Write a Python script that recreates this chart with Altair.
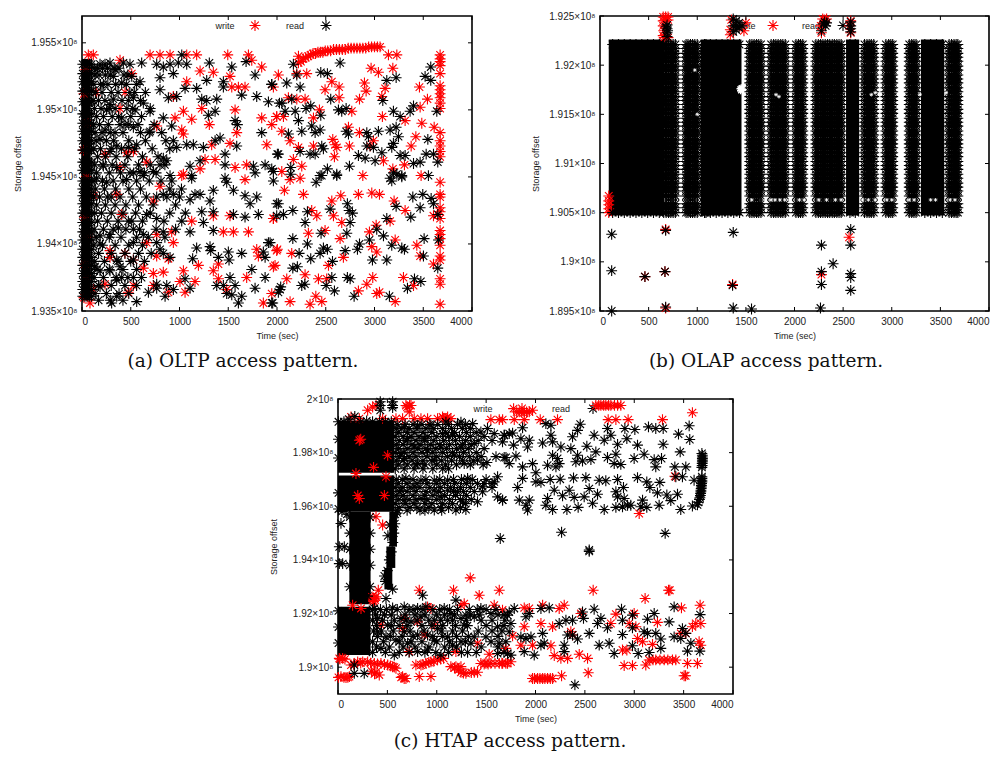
import altair as alt
import pandas as pd

alt.data_transformers.disable_max_rows()

STAR = "M-1,0L1,0M0,-1L0,1M-.7,-.7L.7,.7M-.7,.7L.7,-.7"
TIME_TICKS = [0, 500, 1000, 1500, 2000, 2500, 3000, 3500, 4000]

# ---------- (a) OLTP ----------
A_WRITE = [(65,1.9541),(116,1.9541),(698,1.9541),(800,1.9541),(903,1.9541),(1074,1.9541),(1176,1.9541),(1495,1.9541),(1707,1.9541),(3143,1.9541),(3229,1.9541),
(390,1.9537),(1741,1.9537),(1843,1.9532),(1211,1.9529),(1347,1.9528),(1518,1.9525),(1536,1.9517),(1604,1.9517),(1672,1.9517),(1074,1.9521),(510,1.9527),(150,1.9513),(441,1.9513),(937,1.9510),(1040,1.9499),(1228,1.9501),(1570,1.9500),(1843,1.9494),(1997,1.9495),(390,1.9501),(954,1.9494),(1125,1.9493),(1306,1.9489),(1023,1.9485),(1040,1.9482),(1587,1.9483),(1518,1.9475),(1330,1.9474),(1895,1.9474),(766,1.9488),(458,1.9468),(527,1.9469),(1262,1.9463),(1365,1.9463),(1570,1.9457),(1689,1.9459),(390,1.9457),(663,1.9461),(1211,1.9456),(1040,1.9452),(1672,1.9448),(236,1.9467),
(2014,1.9526),(2220,1.9540),(2305,1.9527),(2203,1.9527),(1963,1.9517),(2493,1.9515),(2562,1.9521),(2637,1.9517),(2637,1.9509),(2897,1.9520),(2914,1.9514),(2846,1.9508),(2965,1.9531),(3040,1.9528),(3188,1.9531),(3109,1.9516),(3075,1.9510),(2117,1.9509),(2288,1.9508),(2203,1.9508),(2435,1.9500),(2374,1.9494),(1997,1.9495),(2066,1.9495),(1946,1.9489),(2767,1.9499),(3081,1.9495),(3314,1.9492),(3468,1.9502),(3543,1.9508),(3461,1.9517),(3485,1.9490),(3612,1.9487),(2733,1.9487),(2846,1.9483),(2049,1.9484),(2134,1.9477),(2220,1.9472),(2374,1.9473),(2596,1.9474),(2572,1.9478),(2613,1.9472),(2743,1.9473),(2589,1.9465),(2168,1.9463),(2254,1.9458),(2989,1.9477),(2955,1.9473),(3092,1.9462),(3376,1.9473),(3424,1.9480),(3307,1.9459),(3188,1.9456),(2880,1.9451),(3478,1.9451),(2049,1.9454),(2237,1.9449),(2134,1.9448),
(2076,1.9440),(2271,1.9437),(2562,1.9432),(2654,1.9436),(2835,1.9437),(2972,1.9438),(3051,1.9437),(3201,1.9432),(3314,1.9425),(2579,1.9421),(2664,1.9416),(1963,1.9419),(2356,1.9425),(2408,1.9421),(3160,1.9417),(3605,1.9421),(2322,1.9408),(2493,1.9410),(2647,1.9404),(2948,1.9409),(3017,1.9414),(3212,1.9403),(2972,1.9398),(3023,1.9394),(3434,1.9399),(2004,1.9396),(2151,1.9393),(2681,1.9390),(2528,1.9384),(1980,1.9384),(3468,1.9391),(3605,1.9385),(2100,1.9374),(2288,1.9377),(2425,1.9374),(2510,1.9374),(2982,1.9375),(2921,1.9370),(2835,1.9365),(3051,1.9364),(3023,1.9363),(3297,1.9375),(3400,1.9369),(2134,1.9357),(2339,1.9355),(2398,1.9361),(2459,1.9357),(3212,1.9357),
(356,1.9437),(732,1.9432),(800,1.9443),(1023,1.9451),(1518,1.9421),(1963,1.9419),(1347,1.9421),(1125,1.9417),(766,1.9407),(920,1.9409),(937,1.9401),(1450,1.9409),(1553,1.9409),(1707,1.9409),(287,1.9395),(441,1.9393),(527,1.9388),(766,1.9391),(886,1.9389),(1040,1.9380),(1194,1.9384),(629,1.9382),(732,1.9378),(834,1.9379),(287,1.9390),(1347,1.9380),(1399,1.9385),(1399,1.9374),(1484,1.9366),(1689,1.9375),(1792,1.9396),(1809,1.9391),(1963,1.9383),(1997,1.9395),(475,1.9364),(527,1.9369),(1005,1.9372),(1159,1.9372),(1057,1.9364),(82,1.9356),(1860,1.9356),(1946,1.9363),(732,1.9369),(116,1.9366),(236,1.9370),(886,1.9364),(663,1.9401),(407,1.9422),
(2220,1.9535),(2245,1.9536),(2270,1.9538),(2295,1.9539),(2320,1.9540),(2345,1.9541),(2370,1.9542),(2395,1.9542),(2420,1.9543),(2445,1.9543),(2470,1.9543),(2495,1.9544),(2520,1.9544),(2550,1.9544),(2580,1.9545),(2610,1.9545),(2640,1.9545),(2670,1.9545),(2700,1.9545),(2730,1.9546),(2760,1.9546),(2790,1.9546),(2820,1.9546),(2850,1.9546),(2880,1.9546),(2910,1.9546),(2940,1.9547),(2970,1.9547),(3000,1.9547),(3030,1.9547),(3057,1.9547),
(40,1.9530),(20,1.9512),(60,1.9490),(15,1.9470),(45,1.9450),(120,1.9436),(25,1.9420),(75,1.9405),(30,1.9385),(60,1.9375),(20,1.9360)]
A_COLUMN_T = [3673]
A_COLUMN_Y = [1.9541,1.9538,1.9536,1.9533,1.9527,1.9518,1.9515,1.9512,1.9509,1.9505,1.9501,1.9483,1.9477,1.9473,1.9469,1.9465,1.9446,1.9437,1.9435,1.9427,1.9424,1.9419,1.9410,1.9407,1.9404,1.9399,1.9391,1.9388,1.9374,1.9370,1.9355]
A_READ = [(287,1.9535),(424,1.9535),(492,1.9534),(612,1.9535),(766,1.9534),(834,1.9532),(903,1.9534),(988,1.9535),(1074,1.9534),(1023,1.9541),(1306,1.9535),(1683,1.9536),(1536,1.9532),(185,1.9534),(236,1.9534),(339,1.9530),(937,1.9527),(800,1.9524),(595,1.9521),(510,1.9525),(407,1.9520),(321,1.9525),(219,1.9519),(1057,1.9516),(1176,1.9516),(1279,1.9522),(1450,1.9517),(1450,1.9521),(1638,1.9511),(1792,1.9510),(1912,1.9506),(2025,1.9505),(1775,1.9526),(1946,1.9519),(527,1.9509),(321,1.9508),(287,1.9504),(629,1.9505),(800,1.9515),(886,1.9509),(971,1.9510),(1228,1.9508),(1279,1.9507),(1382,1.9508),(1296,1.9496),(1365,1.9499),(834,1.9494),(698,1.9499),(544,1.9500),(407,1.9494),(253,1.9500),(1570,1.9492),(1594,1.9489),(1843,1.9483),(2014,1.9467),(1587,1.9473),(1416,1.9479),(1365,1.9477),(1245,1.9472),(1142,1.9474),(1074,1.9474),(937,1.9477),(971,1.9472),(817,1.9483),(698,1.9484),(527,1.9487),(339,1.9483),(236,1.9485),(441,1.9489),(920,1.9488),(561,1.9474),(475,1.9472),(356,1.9473),(185,1.9478),(287,1.9469),(834,1.9464),(869,1.9462),(800,1.9459),(1467,1.9467),(1467,1.9459),(1211,1.9462),(1108,1.9458),(732,1.9454),(595,1.9454),(492,1.9453),(903,1.9451),(1758,1.9458),(1878,1.9459),(1775,1.9453),(1946,1.9456),(1467,1.9449),(1125,1.9449),(356,1.9457),(219,1.9458),(150,1.9449),
(253,1.9446),(458,1.9448),(629,1.9451),(920,1.9447),(1125,1.9451),(1484,1.9446),(1553,1.9440),(1672,1.9436),(1792,1.9435),(1724,1.9430),(1997,1.9430),(1809,1.9422),(1672,1.9420),(1553,1.9422),(1347,1.9424),(1228,1.9424),(1245,1.9416),(1347,1.9410),(1211,1.9437),(1159,1.9437),(1108,1.9433),(937,1.9437),(834,1.9437),(766,1.9435),(1347,1.9440),(1313,1.9432),(663,1.9422),(766,1.9419),(475,1.9417),(373,1.9412),(527,1.9411),(629,1.9407),(287,1.9407),(185,1.9406),(527,1.9401),(834,1.9409),(1023,1.9417),(1108,1.9409),(1176,1.9397),(1313,1.9398),(1320,1.9395),(1399,1.9390),(1501,1.9394),(1508,1.9388),(1638,1.9393),(1135,1.9389),(1912,1.9401),(1860,1.9394),(1878,1.9390),(1997,1.9421),(800,1.9396),(903,1.9390),(834,1.9393),(766,1.9401),(527,1.9388),(356,1.9388),(185,1.9400),(287,1.9380),(407,1.9375),(356,1.9373),(527,1.9375),(133,1.9383),(185,1.9368),(356,1.9361),(304,1.9356),(561,1.9357),(681,1.9364),(766,1.9367),(869,1.9369),(937,1.9366),(852,1.9361),(1057,1.9374),(1108,1.9367),(1518,1.9375),(1382,1.9369),(1450,1.9369),(1570,1.9369),(1484,1.9363),(1536,1.9362),(1638,1.9361),(1604,1.9356),(1741,1.9381),(1775,1.9367),(1878,1.9375),(1946,1.9356),(2031,1.9366),(185,1.9380),(390,1.9383),(766,1.9370),
(2168,1.9534),(2647,1.9535),(2203,1.9526),(2449,1.9528),(2517,1.9527),(2100,1.9520),(2237,1.9517),(1946,1.9519),(2049,1.9505),(2151,1.9508),(2083,1.9499),(2186,1.9499),(2298,1.9501),(2346,1.9503),(2551,1.9508),(2449,1.9496),(2220,1.9492),(2356,1.9488),(2442,1.9485),(2391,1.9483),(2254,1.9484),(2117,1.9482),(2630,1.9500),(2664,1.9499),(2709,1.9501),(3126,1.9522),(3222,1.9524),(3085,1.9507),(3194,1.9499),(3263,1.9495),(3365,1.9499),(3400,1.9503),(3519,1.9525),(3577,1.9532),(3577,1.9522),(3639,1.9499),(3222,1.9487),(3160,1.9485),(3040,1.9484),(2921,1.9483),(2938,1.9480),(2709,1.9484),(2733,1.9482),(3194,1.9475),(3246,1.9480),(3547,1.9478),(3177,1.9472),(2989,1.9472),(2921,1.9473),(2459,1.9473),(2476,1.9471),(2237,1.9469),(2004,1.9467),(2339,1.9467),(2391,1.9467),(2835,1.9466),(2904,1.9464),(3006,1.9462),(3075,1.9468),(3263,1.9466),(3314,1.9466),(3400,1.9460),(3468,1.9461),(3530,1.9467),(3605,1.9467),(3649,1.9461),(2743,1.9458),(2517,1.9456),(2442,1.9451),(2613,1.9452),(2141,1.9457),(2141,1.9452),(1963,1.9454),(3194,1.9453),(3229,1.9452),(3160,1.9449),(3280,1.9451),(3553,1.9451),
(3177,1.9447),(3280,1.9450),(2401,1.9446),(2459,1.9451),(2613,1.9451),(1963,1.9447),(2014,1.9430),(2066,1.9422),(2162,1.9425),(2312,1.9424),(2288,1.9416),(2545,1.9426),(2722,1.9430),(2740,1.9425),(2774,1.9423),(2750,1.9416),(2716,1.9408),(2452,1.9408),(2162,1.9404),(1929,1.9401),(2312,1.9400),(2476,1.9397),(2517,1.9396),(2442,1.9393),(2346,1.9389),(2227,1.9393),(2569,1.9387),(2699,1.9395),(2825,1.9396),(2846,1.9400),(2948,1.9403),(3023,1.9411),(3092,1.9406),(3126,1.9419),(3177,1.9399),(3280,1.9397),(3307,1.9396),(2979,1.9388),(3126,1.9388),(3502,1.9391),(3649,1.9382),(2162,1.9382),(2209,1.9383),(2254,1.9369),(2285,1.9370),(2038,1.9368),(2014,1.9364),(2562,1.9375),(2504,1.9369),(2589,1.9365),(2722,1.9375),(2750,1.9374),(2791,1.9361),(3153,1.9361),(3338,1.9367),(3410,1.9374),(3475,1.9372),(3222,1.9428),(3372,1.9420),(3495,1.9437),(3393,1.9435),(3581,1.9434),(3605,1.9430),(3649,1.9422),(3468,1.9427),(3656,1.9403),(3509,1.9404),(1956,1.9356)]
A_DENSE_T = [8, 30, 52, 75, 98]
A_DENSE_Y = [1.9534,1.9527,1.9521,1.9514,1.9506,1.9497,1.9490,1.9484,1.9477,1.9470,1.9461,1.9455,1.9447,1.9441,1.9436,1.9430,1.9423,1.9416,1.9409,1.9403,1.9396,1.9390,1.9384,1.9378,1.9372,1.9366,1.9361]
A_ROWS = [(1.9531,[125,160,210,262,330,380]),(1.9526,[135,175,240,290,430,470]),(1.9519,[120,190,265,345,455,560]),(1.9513,[140,205,300,370,490,540,650]),(1.9507,[115,170,235,410,475,600]),(1.9501,[128,195,285,340,460,520,700]),(1.9495,[150,220,310,375,500,610]),(1.9489,[118,180,270,390,480,575,740]),(1.9483,[135,205,290,420,600,690]),(1.9477,[145,250,325,480,650,860]),(1.9471,[120,190,300,405,540,720,900]),(1.9465,[160,240,350,470,620,780]),(1.9459,[130,215,310,440,580,700,850]),(1.9453,[150,280,395,530,640,760]),(1.9447,[125,210,320,420,560,690,810]),(1.9441,[140,230,345,480,600,900,1020]),(1.9435,[118,180,260,300,390,520,660,870,1000]),(1.9429,[150,240,340,450,580,730,960]),(1.9423,[130,200,300,420,550,700,900,1060]),(1.9417,[160,260,370,510,620,840]),(1.9411,[125,220,320,450,590,760,960]),(1.9405,[145,280,400,560,680,850]),(1.9399,[120,210,340,480,620]),(1.9393,[170,300,440,580,710]),(1.9387,[130,230,370,500,640]),(1.9381,[155,280,420,560]),(1.9375,[125,220,350,470,610]),(1.9369,[170,300,440,560]),(1.9363,[135,250,380,480]),(1.9358,[170,290,420])]
A_BANDS = [(0, 90, 1.9358, 1.9538)]

# ---------- (b) OLAP ----------
B_WRITE = [(675,1.9033),(462,1.8985),(668,1.8990),(675,1.8953),(1363,1.8977),(2277,1.8987),(2561,1.9025),
(650,1.9249),(675,1.9249),(700,1.9249),(650,1.9245),(700,1.9246),(650,1.9240),(655,1.9235),(650,1.9230),(660,1.9228),(700,1.9228),
(1340,1.9231),(1340,1.9236),(1500,1.9243),(1480,1.9235),(1350,1.9246),
(2310,1.9246),(2290,1.9247),(2330,1.9247),(2277,1.9233),(2270,1.9240),
(2578,1.9245),(2578,1.9233),(2565,1.9240),
(90,1.9050),(90,1.9054),(90,1.9058),(90,1.9062),(90,1.9067)]
B_READ = [(120,1.9028),(120,1.8991),(120,1.8950),(675,1.9032),(668,1.8990),(675,1.8954),(462,1.8985),(1370,1.9030),(1363,1.8976),(1370,1.8953),(1558,1.8952),(2277,1.9017),(2277,1.8990),(2277,1.8977),(2267,1.8953),(2397,1.8998),(2578,1.9033),(2578,1.9017),(2578,1.8988),(2578,1.8984),(2578,1.8971),
(690,1.9241),(690,1.9237),(690,1.9233),(690,1.9229),(680,1.9239),(695,1.9235),
(1370,1.9247),(1400,1.9245),(1430,1.9243),(1370,1.9240),(1400,1.9240),(1430,1.9238),(1460,1.9240),(1370,1.9234),(1400,1.9236),
(2310,1.9244),(2320,1.9240),(2300,1.9242),(2277,1.9235),(2330,1.9243),
(2578,1.9244),(2578,1.9240),(2578,1.9237),(2578,1.9234)]
B_BANDS = [(90,655,1.9047,1.9226),(1035,1455,1.9047,1.9226),(2530,2665,1.9047,1.9226),(3300,3540,1.9047,1.9226)]
B_COLS = [655,680,705,728,752,775,885,905,930,952,975,1000,1075,1090,1540,1562,1585,1610,1632,1655,1760,1785,1808,1832,1858,1880,1905,2015,2040,2062,2085,2220,2245,2268,2292,2316,2340,2362,2388,2410,2435,2458,2480,2720,2745,2768,2790,2815,2940,2968,2990,3010,3180,3205,3228,3250,3590,3615,3640,3662,3680]
B_ROWS = [1.9221,1.9217,1.9212,1.9208,1.9204,1.9199,1.9195,1.9190,1.9186,1.9182,1.9177,1.9173,1.9168,1.9164,1.9160,1.9155,1.9151,1.9146,1.9142,1.9138,1.9133,1.9129,1.9124,1.9120,1.9116,1.9111,1.9107,1.9102,1.9098,1.9094,1.9089,1.9085,1.9080,1.9076,1.9072,1.9067,1.9059,1.9055,1.9050]
B_EDGE_T = [130,190,250,310,370,430,490,550,610,1075,1135,1195,1255,1315,1375,1435,2570,2625,3340,3400,3460,3520]
B_EDGE_Y = [1.9221,1.9050]
B_GAP_BLOB = [(1440,1.9176),(1452,1.9177),(1446,1.9174)]
B_GAP_T = [1480,1560,1700,1760,1800,1850,1900,1950,2050,2100,2250,2330,2420,2480,2700,2760,2830,2950,3000,3180,3230,3400,3450,3600,3650]
B_GAP_Y = [1.9063]
B_GAP_SPECKS = [(1810,1.9170),(1840,1.9168),(2790,1.9170),(2830,1.9172),(3290,1.9170),(3560,1.9172),(975,1.9195),(1000,1.9150)]

# ---------- (c) HTAP ----------
C_WRITE = [(13,1.9033),(47,1.9033),(30,1.8965),(81,1.8961),(115,1.8965),(132,1.9008),(199,1.9020),(250,1.9020),(300,1.9020),(368,1.9014),(435,1.9014),(503,1.9008),(553,1.9002),(587,1.8996),(385,1.8981),(418,1.8971),(654,1.8965),(688,1.8958),(823,1.8965),(941,1.8965),(789,1.9008),(840,1.9008),(890,1.9014),(941,1.9020),(1008,1.9027),(1069,1.9033),(1143,1.9002),(1194,1.9002),(1245,1.9002),(1245,1.8981),(1295,1.8977),(1380,1.8981),(1413,1.8981),(1447,1.9014),(1498,1.9014),(1548,1.9014),(1633,1.9014),(1700,1.9014),(1751,1.9020),(368,1.9256),(385,1.9262),(351,1.9250),(408,1.9287),(823,1.9287),(1170,1.9287),(1339,1.9333),(1430,1.9268),(1633,1.9287),(1582,1.9231),(1245,1.9231),(1278,1.9237),(907,1.9225),(941,1.9219),(654,1.9144),(722,1.9058),(1194,1.9058),(1413,1.9089),(1531,1.9048),(1666,1.9213),(148,1.9231),(233,1.9219),(435,1.9157),(671,1.9182),(975,1.9157),(806,1.9169),(874,1.9120),
(1667,1.9014),(1717,1.9014),(1970,1.8958),(2021,1.8958),(2072,1.8958),(2122,1.8958),(2173,1.8958),(2264,1.8968),(2534,1.8979),(2584,1.9287),(3110,1.9256),(3347,1.9287),(3478,1.9221),(3667,1.9231),(3505,1.8968),(3539,1.9014),(3640,1.9014),(2898,1.9006),(2982,1.9006),(3117,1.9008),(3151,1.9027),(3218,1.9027),(3303,1.9027),(3387,1.9027),(3421,1.9027),(2072,1.9231),(2291,1.9231),(2240,1.9219),(2460,1.9200),(1886,1.9221),(1937,1.9219),(2055,1.9163),(1886,1.9151),(1768,1.9117),(2173,1.9151),(2358,1.9132),(2375,1.9120),(2443,1.9048),(2527,1.9033),(2257,1.9033),(2325,1.9033),(2190,1.9043),(2156,1.9080),(1970,1.9082),(1852,1.9082),(2763,1.9163),(2814,1.9198),(2949,1.9163),(2999,1.9200),(3033,1.9107),(3084,1.9095),(3185,1.9085),(3235,1.9167),(2881,1.9064),(2925,1.9064),(3016,1.9151),(3623,1.9163),(3674,1.9163),(3657,1.9095),(3674,1.9082),(3589,1.9151),(3471,1.9126),(3522,1.9126),(1700,1.9070),
(132,1.9933),(216,1.9927),(300,1.9958),(351,1.9970),(385,1.9976),(452,1.9927),(587,1.9927),(654,1.9927),(688,1.9976),(739,1.9976),(722,1.9952),(772,1.9927),(840,1.9927),(907,1.9927),(1008,1.9927),(1059,1.9933),(1110,1.9933),(1143,1.9927),(1548,1.9923),(1633,1.9923),(385,1.9561),(452,1.9530),
(1778,1.9964),(1836,1.9952),(1886,1.9952),(1937,1.9952),(1970,1.9958),(1785,1.9923),(1886,1.9923),(2048,1.9923),(2223,1.9923),(2611,1.9976),(2662,1.9976),(2712,1.9976),(2763,1.9976),(2831,1.9976),(2864,1.9976),(2736,1.9923),(2814,1.9923),(2938,1.9923),(3286,1.9923),(3589,1.9949),(3411,1.9712),(3050,1.9573),(1667,1.9923),
(5,1.8962),(60,1.8962),(100,1.8962),(20,1.9030),(70,1.9030),(160,1.9012),(230,1.9015),(330,1.9015),(400,1.9012),(470,1.9010),(530,1.9005),(570,1.9000),(340,1.8985),(370,1.8975),(640,1.8962),(670,1.8958),(860,1.9010),(920,1.9018),(970,1.9022),(1040,1.9030),(1180,1.8998),(1220,1.8990),(1270,1.8978),(1350,1.8980),(360,1.9258),(375,1.9250),(360,1.9245),(345,1.9262),(1480,1.9012),(1520,1.9012),(1590,1.9014),(1660,1.9014),(1990,1.8958),(2045,1.8958),(2095,1.8958),(2150,1.8958),(3190,1.9027),(3260,1.9027),(3340,1.9027),(3360,1.9287),(3520,1.8968),(2640,1.9976),(2690,1.9976),(2740,1.9976),(2800,1.9976),(1810,1.9952),(1860,1.9952),(1910,1.9952),(700,1.9970),(725,1.9976),(1070,1.9928),(1095,1.9928),
(216,1.9846),(503,1.9790),(486,1.9710),(182,1.9722),(216,1.9629),(470,1.9640),(360,1.9745),(200,1.9640),(230,1.9850)]
C_READ = [(1869,1.9893),(2105,1.9908),(2156,1.9902),(2453,1.9906),(2426,1.9883),(2729,1.9890),(2763,1.9865),(2594,1.9865),(2375,1.9859),(2156,1.9865),(2173,1.9840),(2072,1.9836),(1920,1.9821),(1937,1.9846),(1852,1.9852),(1768,1.9873),(1684,1.9865),(1778,1.9828),(2257,1.9821),(2358,1.9815),(2520,1.9824),(2611,1.9803),(2426,1.9790),(2409,1.9766),(2476,1.9769),(2561,1.9774),(2173,1.9790),(2223,1.9778),(2240,1.9759),(2122,1.9753),(2207,1.9747),(2004,1.9725),(1970,1.9759),(1869,1.9747),(1802,1.9787),(1701,1.9782),(1869,1.9704),(2004,1.9691),(2055,1.9689),(2149,1.9700),(2250,1.9701),(2385,1.9706),(2510,1.9707),(2645,1.9697),(2712,1.9695),(2831,1.9700),(2891,1.9670),(3033,1.9707),(3127,1.9691),(3158,1.9670),(3259,1.9689),(3235,1.9650),(3330,1.9642),(3438,1.9645),(3411,1.9747),(3522,1.9747),(3465,1.9803),(3562,1.9849),(3448,1.9869),(3556,1.9900),(3293,1.9890),(3293,1.9831),(3218,1.9890),(3144,1.9896),(3006,1.9886),(2905,1.9890),(2925,1.9852),(3033,1.9828),(2831,1.9831),(2696,1.9846),(2814,1.9794),(2729,1.9782),(2797,1.9759),(2864,1.9756),(2999,1.9778),(3100,1.9794),(3202,1.9774),(3276,1.9778),(3218,1.9747),(2190,1.9660),(2341,1.9660),(2274,1.9639),(2392,1.9633),(2122,1.9629),(2105,1.9604),(2173,1.9588),(2318,1.9588),(2432,1.9596),(2578,1.9611),(2544,1.9666),(2628,1.9645),(2493,1.9635),(2696,1.9588),(2814,1.9596),(2881,1.9598),(2932,1.9604),(2814,1.9654),(2831,1.9635),(2898,1.9629),(3084,1.9623),(3067,1.9598),(2965,1.9604),(3127,1.9596),(3252,1.9604),(3370,1.9621),(3471,1.9588),(3589,1.9601),(1819,1.9670),(1836,1.9623),(1903,1.9604),(1937,1.9623),(1920,1.9586),(1667,1.9623),(2264,1.9503),(3313,1.9499),(2544,1.9437),(3606,1.9697),(3488,1.9710),(3421,1.9710),
(3685,1.9797),(3690,1.9790),(3690,1.9784),(3690,1.9778),(3690,1.9772),(3690,1.9766),(3688,1.9760),(3688,1.9752),(3685,1.9745),(3685,1.9710),(3685,1.9704),(3685,1.9697),(3685,1.9691),(3682,1.9685),(3680,1.9678),(3680,1.9672),(3678,1.9666),(3675,1.9660),(3675,1.9654),(3672,1.9648),(3670,1.9640),(3665,1.9632),(3660,1.9625),(3650,1.9615),(3640,1.9605),
(2544,1.9432),(1734,1.9206),(1785,1.9219),(2055,1.9219),(2139,1.9221),(1903,1.9188),(1937,1.9200),(1751,1.9163),(1852,1.9113),(1903,1.9107),(2072,1.9126),(1954,1.9113),(2055,1.9082),(2088,1.9089),(1751,1.9045),(1886,1.9058),(1987,1.9045),(2291,1.9082),(2291,1.9058),(2375,1.9120),(2325,1.9120),(2426,1.9105),(2240,1.9163),(2308,1.9175),(2375,1.9175),(2476,1.9206),(2594,1.9216),(2486,1.9182),(2544,1.9126),(2628,1.9163),(2662,1.9182),(2729,1.9147),(2645,1.9082),(2746,1.9089),(2797,1.9051),(2871,1.9216),(2881,1.9175),(2982,1.9194),(2881,1.9122),(2982,1.9147),(2982,1.9080),(3040,1.9051),(3134,1.9179),(3202,1.9200),(3100,1.9132),(3134,1.9126),(3151,1.9055),(3218,1.9126),(3269,1.9105),(3269,1.9070),(3353,1.9169),(3404,1.9225),(3404,1.9113),(3488,1.9144),(3522,1.9126),(3573,1.9089),(3539,1.9060),(3667,1.9196),(3664,1.9060),(2399,1.8934),(3471,1.9107),
(13,1.9386),(47,1.9386),(857,1.9268),(1194,1.9250),(553,1.9291),(486,1.9256),(250,1.9293),(368,1.9219),(553,1.9221),(671,1.9225),(806,1.9219),(890,1.9225),(1076,1.9219),(1143,1.9200),(1295,1.9194),(1447,1.9219),(1548,1.9200),(1717,1.9194),(401,1.9182),(503,1.9157),(637,1.9182),(739,1.9169),(840,1.9188),(975,1.9175),(1110,1.9175),(1245,1.9182),(1380,1.9188),(1278,1.9157),(1380,1.9113),(1498,1.9113),(1616,1.9151),(1734,1.9132),(401,1.9132),(486,1.9113),(587,1.9101),(671,1.9132),(806,1.9120),(907,1.9120),(1008,1.9144),(1110,1.9113),(1245,1.9095),(1346,1.9089),(1633,1.9089),(1717,1.9051),(1616,1.9051),(1312,1.9055),(1042,1.9045),(907,1.9064),(806,1.9058),(570,1.9045),(435,1.9070),(705,1.9089),(165,1.9008),(165,1.8977),(266,1.8977),(1160,1.9082),(975,1.9101),
(671,1.9896),(806,1.9902),(941,1.9902),(1093,1.9914),(1245,1.9914),(1363,1.9908),(1514,1.9890),(1447,1.9877),(1683,1.9865),(1666,1.9840),(1582,1.9871),(1734,1.9871),(1160,1.9865),(1059,1.9871),(874,1.9852),(705,1.9852),(637,1.9797),(772,1.9821),(907,1.9809),(1042,1.9821),(1177,1.9790),(1278,1.9759),(1413,1.9772),(1508,1.9763),(1683,1.9782),(1734,1.9759),(975,1.9772),(806,1.9759),(671,1.9778),(1245,1.9821),(1380,1.9834),(688,1.9704),(840,1.9697),(975,1.9697),(1110,1.9697),(1312,1.9704),(1413,1.9685),(1464,1.9673),(1582,1.9691),(1616,1.9710),(1413,1.9617),(1262,1.9617),(1194,1.9586),(1295,1.9588),(975,1.9586),(830,1.9586),(671,1.9623),(840,1.9629),(1042,1.9635),(1211,1.9654),(1110,1.9660),(1616,1.9635),(1666,1.9623),(1643,1.9480),(30,1.9536),(13,1.9449),(64,1.9449),(975,1.9660),(772,1.9673),(637,1.9660),(1464,1.9654),
(428,1.9990),(428,1.9976),(428,1.9958),(553,1.9990),(553,1.9976),(553,1.9968),
(580,1.9570),(575,1.9535),(565,1.9500),(555,1.9465),(540,1.9430),(520,1.9400),(500,1.9360),(480,1.9320),(600,1.9575),(505,1.9490),(525,1.9530),(470,1.9340),
(120,1.9560),(120,1.9500),(120,1.9440),(120,1.9380),(120,1.9300),(325,1.9560),(325,1.9500),(325,1.9440),(325,1.9380),(325,1.9300),(300,1.9265),(5,1.9915),(60,1.9915),(110,1.9925),(170,1.9935),(230,1.9915),(290,1.9918),(350,1.9915),(420,1.9915),(480,1.9915),(540,1.9915),(5,1.9850),(5,1.9780),(5,1.9650),(5,1.9590),(5,1.9210),(5,1.9150),(5,1.9090),(40,1.9580),(90,1.9570)]
C_ROWS = [(1.9905,[600,680,760,850,930,1010,1120,1210,1290]),(1.9890,[590,640,720,800,890,970,1060,1150,1260,1340]),(1.9875,[610,700,770,860,950,1090,1180,1300,1400]),(1.9860,[580,660,740,820,910,1000,1120,1230,1340,1480]),(1.9845,[620,690,790,880,970,1070,1190,1290,1420,1560]),(1.9830,[590,660,750,830,940,1030,1130,1260,1350]),(1.9815,[610,700,810,890,990,1100,1200,1320,1480]),(1.9800,[580,670,760,850,960,1060,1160,1270,1400]),(1.9785,[620,720,790,900,1000,1110,1230,1330,1450,1600]),(1.9770,[590,660,750,860,950,1050,1150,1260,1370]),(1.9755,[610,700,790,880,1000,1090,1200,1340,1470]),(1.9740,[580,670,770,860,960,1060,1120]),(1.9700,[590,650,760,890,1030,1170,1250,1360,1500]),(1.9685,[610,700,800,900,1000,1080,1180,1300,1480,1560]),(1.9670,[580,650,730,830,930,1040,1140,1240,1340,1560]),(1.9655,[620,700,790,890,1020,1170,1270,1380]),(1.9640,[590,660,760,880,960,1080,1190,1300]),(1.9625,[610,720,790,900,1000,1130,1240,1350]),(1.9610,[580,680,770,880,950,1060,1160,1290]),(1.9595,[620,730,800,920,1040,1120,1240]),(1.9585,[600,700,880,1050]),
(1.9215,[350,430,490,600,720,760,860,960,1030,1130,1210,1330,1410,1500,1600]),(1.9195,[380,470,540,680,780,880,1000,1080,1180,1340,1430,1620,1680]),(1.9175,[350,450,570,690,800,920,1040,1160,1300,1450,1560,1690]),(1.9155,[390,540,620,700,850,950,1060,1190,1310,1500,1680]),(1.9135,[360,440,560,730,870,1050,1160,1260,1420,1560,1660]),(1.9115,[400,530,650,760,960,1060,1200,1320,1620]),(1.9095,[350,460,620,740,850,1000,1130,1290,1550,1700]),(1.9075,[390,520,660,780,920,1080,1200,1450,1620]),(1.9055,[350,480,620,720,880,990,1120,1250,1400,1680])]
C_BANDS = [(0,570,1.9580,1.9715),(0,570,1.9725,1.9920),(115,330,1.9235,1.9580),(520,597,1.9450,1.9580),(490,580,1.9370,1.9450),(470,550,1.9290,1.9370),(0,330,1.9045,1.9225)]


def frame(pairs):
    return pd.DataFrame(pairs, columns=["t", "y"])


def cross(ts, ys):
    return [(t, y) for t in ts for y in ys]


def expand(rows):
    return [(t, y) for y, ts in rows for t in ts]


SANS = "Liberation Sans"
INK = "#222222"
STAR_SIZE = 118
STAR_WIDTH = 1.1


def panel(write, read, bands, ydomain, yticks, w, h, legend_px, caption, caption_px, blobs=None, specks=None):
    xs = alt.Scale(domain=[0, 4000], nice=False, zero=False)
    ys = alt.Scale(domain=ydomain, nice=False, zero=False)
    xax = alt.Axis(values=TIME_TICKS, title="Time (sec)", grid=False, domain=False, tickSize=0,
                   labelPadding=5, labelFontSize=10, titleFontSize=9, titlePadding=5, format="d",
                   labelFont=SANS, titleFont=SANS, titleFontWeight="normal",
                   labelColor=INK, titleColor=INK, labelOverlap=False)
    yax = alt.Axis(values=yticks, title="Storage offset", grid=False, domain=False, tickSize=0,
                   labelPadding=5, labelFontSize=10, titleFontSize=9, titlePadding=2,
                   minExtent=58, maxExtent=58,
                   labelExpr="(round(datum.value*1000)/1000)+'×10⁸'", labelFont=SANS,
                   titleFont=SANS, titleFontWeight="normal", labelColor=INK,
                   titleColor=INK, labelOverlap=False)
    X = alt.X("t:Q", scale=xs, axis=xax)
    Y = alt.Y("y:Q", scale=ys, axis=yax)
    one = pd.DataFrame({"k": [0]})

    def star(color):
        return alt.Chart(one).mark_point(shape=STAR, filled=False, stroke=color, strokeWidth=STAR_WIDTH,
                                         size=STAR_SIZE, opacity=1)

    def text(s):
        return alt.Chart(one).mark_text(text=s, font=SANS, fontSize=9, color=INK)

    wt, ws, rt, rs, ly = legend_px
    layers = [
        text("write").encode(x=alt.value(wt), y=alt.value(ly)),
        star("#ff0000").encode(x=alt.value(ws), y=alt.value(ly)),
        text("read").encode(x=alt.value(rt), y=alt.value(ly)),
        star("#000000").encode(x=alt.value(rs), y=alt.value(ly)),
    ]
    bdf = pd.DataFrame(bands, columns=["t", "t2", "y", "y2"])
    layers.append(alt.Chart(bdf).mark_rect(color="black", clip=False).encode(x=X, x2="t2:Q", y=Y, y2="y2:Q"))
    for pts, col in ((write, "#ff0000"), (read, "#000000")):
        layers.append(alt.Chart(frame(pts)).mark_point(shape=STAR, filled=False, stroke=col, strokeWidth=STAR_WIDTH,
                                                       size=STAR_SIZE, opacity=1, clip=False).encode(x=X, y=Y))
    if blobs:
        layers.append(alt.Chart(frame(blobs)).mark_point(shape=STAR, filled=False, stroke="white", strokeWidth=1.4,
                                                         size=50, opacity=1).encode(x=X, y=Y))
    if specks:
        layers.append(alt.Chart(frame(specks)).mark_point(shape=STAR, filled=False, stroke="white", strokeWidth=0.8,
                                                          size=14, opacity=1).encode(x=X, y=Y))
    tx = pd.DataFrame({"t": TIME_TICKS})
    ty = pd.DataFrame({"y": yticks})
    layers += [
        alt.Chart(tx).mark_rule(color="black").encode(x=X, y=alt.value(h), y2=alt.value(h - 4)),
        alt.Chart(tx).mark_rule(color="black").encode(x=X, y=alt.value(0), y2=alt.value(4)),
        alt.Chart(ty).mark_rule(color="black").encode(y=Y, x=alt.value(0), x2=alt.value(4)),
        alt.Chart(ty).mark_rule(color="black").encode(y=Y, x=alt.value(w), x2=alt.value(w - 4)),
        alt.Chart(one).mark_text(text=caption, font="DejaVu Serif", fontSize=18.5, color="#111111").encode(
            x=alt.value(caption_px[0]), y=alt.value(caption_px[1])),
    ]
    return alt.layer(*layers).properties(
        width=w, height=h, view=alt.ViewConfig(stroke="black", strokeWidth=1.6))


a = panel(A_WRITE + cross(A_COLUMN_T, A_COLUMN_Y),
          cross(A_DENSE_T, A_DENSE_Y) + expand(A_ROWS) + A_READ,
          A_BANDS, [1.935, 1.957], [1.935, 1.94, 1.945, 1.95, 1.955], 390, 295,
          (143, 173, 213, 244, 9.5), "(a) OLTP access pattern.", (161, 345))
b = panel(B_WRITE,
          cross(B_COLS, B_ROWS) + cross(B_EDGE_T, B_EDGE_Y) + B_READ,
          B_BANDS, [1.895, 1.925], [1.895, 1.9, 1.905, 1.91, 1.915, 1.92, 1.925], 389, 295,
          (146, 173, 211, 243, 9.5), "(b) OLAP access pattern.", (166, 345),
          blobs=B_GAP_BLOB, specks=cross(B_GAP_T, B_GAP_Y) + B_GAP_SPECKS)
c = panel(C_WRITE, expand(C_ROWS) + C_READ, C_BANDS, [1.89, 2.0], [1.9, 1.92, 1.94, 1.96, 1.98, 2.0], 395, 295,
          (145, 184, 223, 255, 9.5), "(c) HTAP access pattern.", (172, 342))
spacer = alt.Chart(pd.DataFrame({"k": [0]})).mark_text(text="").encode(x=alt.value(0)).properties(
    width=185, height=10, view=alt.ViewConfig(stroke="transparent"))

chart = alt.vconcat(
    alt.hconcat(a, b, spacing=56),
    alt.hconcat(spacer, c, spacing=0),
    spacing=21,
).properties(padding={"left": 4, "top": 0, "right": 0, "bottom": 0}).configure_concat(spacing=0)

chart.save("out.html", embed_options={"renderer": "svg", "actions": False})
